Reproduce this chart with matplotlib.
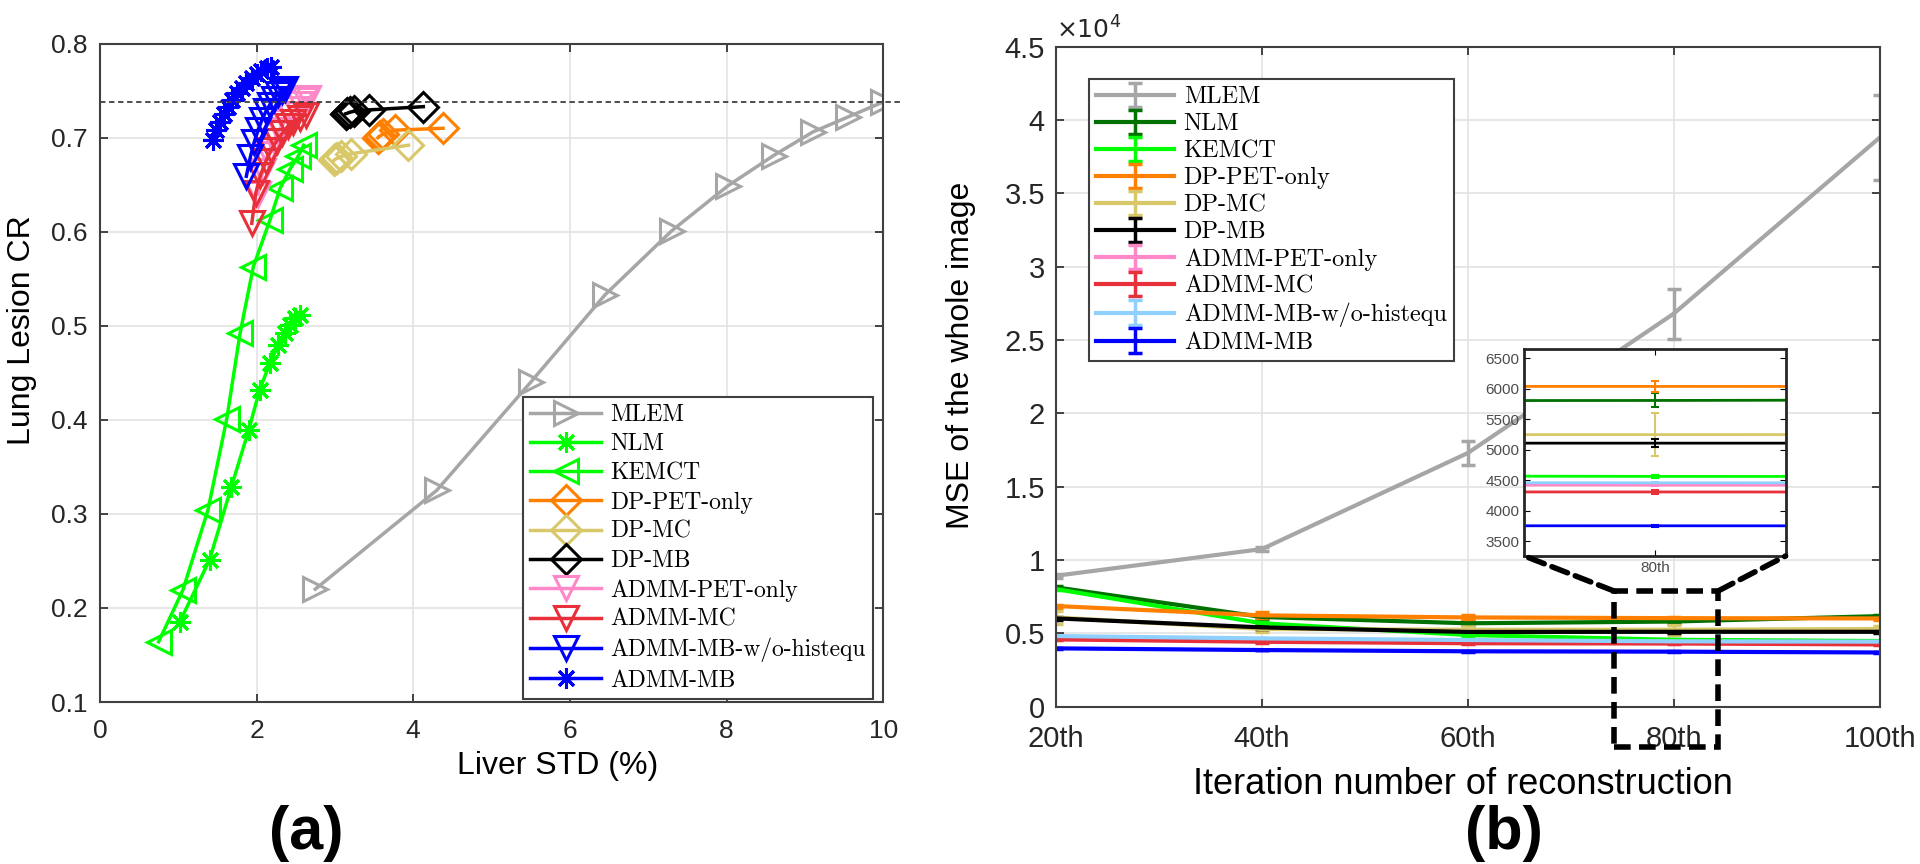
import numpy as np
import matplotlib
matplotlib.use('Agg')
import matplotlib.pyplot as plt
from matplotlib.patches import Rectangle, ConnectionPatch
from matplotlib.ticker import FuncFormatter

plt.rcParams['font.family'] = ['Liberation Sans', 'DejaVu Sans']

# ---------------- (a) CR vs STD ----------------
mlem_x = [2.75, 4.30, 5.50, 6.45, 7.30, 8.02, 8.60, 9.10, 9.55, 10.0]
mlem_y = [0.220, 0.325, 0.440, 0.533, 0.601, 0.649, 0.681, 0.706, 0.722, 0.738]
nlm_x = [1.02, 1.40, 1.68, 1.90, 2.04, 2.17, 2.28, 2.36, 2.43, 2.49, 2.55]
nlm_y = [0.185, 0.251, 0.329, 0.389, 0.432, 0.460, 0.480, 0.492, 0.501, 0.508, 0.511]
kemct_x = [0.75, 1.06, 1.38, 1.62, 1.79, 1.96, 2.17, 2.30, 2.43, 2.53, 2.60]
kemct_y = [0.164, 0.219, 0.304, 0.401, 0.492, 0.563, 0.612, 0.646, 0.667, 0.680, 0.692]
dppet_x = [4.38, 3.77, 3.62, 3.58, 3.56, 3.55]
dppet_y = [0.710, 0.708, 0.704, 0.702, 0.701, 0.700]
dpmc_x = [3.94, 3.21, 3.08, 3.03, 3.00, 2.99]
dpmc_y = [0.692, 0.683, 0.680, 0.678, 0.677, 0.676]
dpmb_x = [4.13, 3.43, 3.24, 3.19, 3.16, 3.14]
dpmb_y = [0.733, 0.7295, 0.728, 0.727, 0.726, 0.7255]
admmpet_x = [2.02, 2.08, 2.15, 2.22, 2.29, 2.36, 2.43, 2.50, 2.56, 2.62, 2.66]
admmpet_y = [0.640, 0.665, 0.683, 0.697, 0.708, 0.717, 0.725, 0.731, 0.736, 0.740, 0.742]
admmmc_x = [1.94, 1.99, 2.05, 2.12, 2.19, 2.26, 2.33, 2.40, 2.47, 2.55, 2.63]
admmmc_y = [0.609, 0.641, 0.660, 0.675, 0.687, 0.697, 0.705, 0.712, 0.717, 0.721, 0.724]
admmwo_x = [1.87, 1.92, 1.97, 2.02, 2.07, 2.12, 2.17, 2.22, 2.27, 2.32, 2.36]
admmwo_y = [0.659, 0.679, 0.695, 0.708, 0.719, 0.728, 0.735, 0.741, 0.746, 0.750, 0.752]
admmmb_x = [1.45, 1.48, 1.53, 1.58, 1.63, 1.69, 1.75, 1.81, 1.87, 1.94, 2.00, 2.06, 2.13, 2.19]
admmmb_y = [0.698, 0.708, 0.717, 0.725, 0.733, 0.740, 0.747, 0.753, 0.7585, 0.763, 0.7675, 0.771, 0.774, 0.775]
ref_cr = 0.738

# ---------------- (b) MSE vs iteration ----------------
iters = [20, 40, 60, 80, 100]
iter_labels = ['20th', '40th', '60th', '80th', '100th']
mse = {
    'MLEM': [8930, 10750, 17300, 26800, 38800],
    'NLM': [8140, 6120, 5690, 5810, 6180],
    'KEMCT': [8020, 5690, 4890, 4565, 4480],
    'DP-PET-only': [6865, 6230, 6090, 6040, 6020],
    'DP-MC': [6090, 5300, 5250, 5250, 5300],
    'DP-MB': [6025, 5410, 5100, 5110, 5110],
    'ADMM-PET-only': [4700, 4580, 4470, 4420, 4400],
    'ADMM-MC': [4590, 4430, 4330, 4310, 4250],
    'ADMM-MB-w/o-histequ': [4820, 4660, 4550, 4460, 4440],
    'ADMM-MB': [3980, 3865, 3780, 3755, 3700],
}
mse_err = {
    'MLEM': [120, 150, 800, 1700, 2900],
    'NLM': [100, 150, 150, 115, 100],
    'KEMCT': [60, 60, 50, 20, 30],
    'DP-PET-only': [100, 200, 150, 90, 100],
    'DP-MC': [450, 200, 250, 350, 200],
    'DP-MB': [80, 100, 80, 60, 80],
    'ADMM-PET-only': [30, 30, 30, 20, 20],
    'ADMM-MC': [40, 50, 40, 40, 40],
    'ADMM-MB-w/o-histequ': [30, 30, 30, 20, 20],
    'ADMM-MB': [20, 20, 20, 15, 15],
}

gray = '#A6A6A6'
green = '#00FF00'
dkgreen = '#007000'
orange = '#FF8000'
khaki = '#D9C86A'
pink = '#FF88C8'
red = '#E8303A'
ltblue = '#8FD0FF'
blue = '#0000FF'
right_colors = {'MLEM': gray, 'NLM': dkgreen, 'KEMCT': green, 'DP-PET-only': orange,
                'DP-MC': khaki, 'DP-MB': 'black', 'ADMM-PET-only': pink, 'ADMM-MC': red,
                'ADMM-MB-w/o-histequ': ltblue, 'ADMM-MB': blue}

fig = plt.figure(figsize=(19.2, 8.64), dpi=100)

def matlab_axes(ax):
    ax.tick_params(direction='in', top=True, right=True, length=6, width=1.2, colors='#262626')
    for s in ax.spines.values():
        s.set_color('#404040')
        s.set_linewidth(1.5)
    ax.grid(True, color='#E3E3E3', lw=1.2)
    ax.set_axisbelow(True)

# ----- left panel -----
ax1 = fig.add_axes([0.052, 0.1875, 0.408, 0.762])
matlab_axes(ax1)
ast = (8, 2, 0)
mk = dict(fillstyle='none', mew=2.2, lw=2.5)
ax1.plot(mlem_x, mlem_y, color=gray, marker='>', ms=17, label='MLEM', **mk)
ax1.plot(nlm_x, nlm_y, color=green, marker=ast, ms=15, label='NLM', **mk)
ax1.plot(kemct_x, kemct_y, color=green, marker='<', ms=17, label='KEMCT', **mk)
ax1.plot(dppet_x, dppet_y, color=orange, marker='D', ms=15, label='DP-PET-only', **mk)
ax1.plot(dpmc_x, dpmc_y, color=khaki, marker='D', ms=15, label='DP-MC', **mk)
ax1.plot(dpmb_x, dpmb_y, color='black', marker='D', ms=15, label='DP-MB', **mk)
ax1.plot(admmpet_x, admmpet_y, color=pink, marker='v', ms=17, label='ADMM-PET-only', **mk)
ax1.plot(admmmc_x, admmmc_y, color=red, marker='v', ms=17, label='ADMM-MC', **mk)
ax1.plot(admmwo_x, admmwo_y, color=blue, marker='v', ms=17, label='ADMM-MB-w/o-histequ', **mk)
ax1.plot(admmmb_x, admmmb_y, color=blue, marker=ast, ms=15, label='ADMM-MB', **mk)
ax1.axhline(ref_cr, xmin=0, xmax=1.025, color='#404040', ls=(0, (3, 2)), lw=1.3, clip_on=False)
ax1.set_xlim(0, 10)
ax1.set_ylim(0.1, 0.8)
ax1.set_xticks(np.arange(0, 11, 2))
ax1.set_yticks(np.arange(0.1, 0.81, 0.1))
ax1.yaxis.set_major_formatter(FuncFormatter(lambda v, p: f'{v:.1f}'))
ax1.tick_params(labelsize=19)
ax1.tick_params(axis='x', pad=12)
ax1.tick_params(axis='y', pad=9)
ax1.set_xlabel('Liver STD (%)', fontsize=23, va='center')
ax1.set_ylabel('Lung Lesion CR', fontsize=23, va='center')
ax1.xaxis.set_label_coords(0.585, -0.097)
ax1.yaxis.set_label_coords(-0.1, 0.565)
leg1 = ax1.legend(loc='lower right', bbox_to_anchor=(0.987, 0.005), borderaxespad=0,
                  prop={'family': 'cmr10', 'size': 17}, handlelength=3.0, labelspacing=0.3,
                  fancybox=False, edgecolor='#404040', framealpha=1, borderpad=0.3, handletextpad=0.4)
leg1.get_frame().set_linewidth(1.5)

# ----- right panel -----
ax2 = fig.add_axes([0.55, 0.182, 0.429, 0.764])
matlab_axes(ax2)
eb = dict(lw=3, elinewidth=2.5, capsize=5, capthick=2.5)
for name in mse:
    ax2.errorbar(iters, mse[name], yerr=mse_err[name], color=right_colors[name], label=name, **eb)
ax2.set_xlim(20, 100)
ax2.set_ylim(0, 45000)
ax2.set_xticks(iters)
ax2.set_xticklabels(iter_labels)
ax2.set_yticks(np.arange(0, 45001, 5000))
ax2.yaxis.set_major_formatter(FuncFormatter(lambda v, p: f'{v / 1e4:g}'))
ax2.tick_params(labelsize=21)
ax2.tick_params(axis='x', pad=13)
ax2.tick_params(axis='y', pad=8)
ax2.text(0.0, 1.004, r'$\times10^{4}$', transform=ax2.transAxes, fontsize=18, va='bottom', ha='left', color='#262626')
ax2.set_xlabel('Iteration number of reconstruction', fontsize=26, va='center')
ax2.set_ylabel('MSE of the whole image', fontsize=23, va='center')
ax2.xaxis.set_label_coords(0.494, -0.118)
ax2.yaxis.set_label_coords(-0.115, 0.533)
leg2 = ax2.legend(loc='upper left', bbox_to_anchor=(0.04, 0.951), borderaxespad=0,
                  prop={'family': 'cmr10', 'size': 17.5}, handlelength=3.2, labelspacing=0.2,
                  fancybox=False, edgecolor='#404040', framealpha=1, borderpad=0.3, handletextpad=0.4)
leg2.get_frame().set_linewidth(1.5)

# zoom box
ax2.add_patch(Rectangle((74.2, -2750), 10.1, 10640, fill=False, ec='black', lw=4,
                        ls=(0, (3, 1.5)), clip_on=False, zorder=10))

# inset
axi = fig.add_axes([0.794, 0.3565, 0.136, 0.240])
for name in mse:
    axi.errorbar(iters, mse[name], yerr=mse_err[name], color=right_colors[name],
                 lw=2, elinewidth=1.5, capsize=3, capthick=1.5)
axi.set_xlim(79.8, 80.2)
axi.set_ylim(3260, 6660)
axi.set_xticks([80])
axi.set_xticklabels(['80th'])
axi.set_yticks(np.arange(3500, 6501, 500))
axi.tick_params(direction='in', top=True, right=True, labelsize=11, labelcolor='#4D4D4D', length=4)
for s in axi.spines.values():
    s.set_color('#262626')
    s.set_linewidth(2)

for xa, xb in [((74.2, 7890), (0, 0)), ((84.3, 7890), (1, 0))]:
    con = ConnectionPatch(xyA=xa, coordsA=ax2.transData, xyB=xb, coordsB=axi.transAxes,
                          color='black', lw=4, ls=(0, (3, 1.5)), zorder=10)
    fig.add_artist(con)

fig.text(306 / 1920, 1 - 834 / 864, '(a)', fontsize=44, fontweight='bold', ha='center', va='center')
fig.text(1504 / 1920, 1 - 834 / 864, '(b)', fontsize=44, fontweight='bold', ha='center', va='center')

fig.savefig('out.png', dpi=100)
